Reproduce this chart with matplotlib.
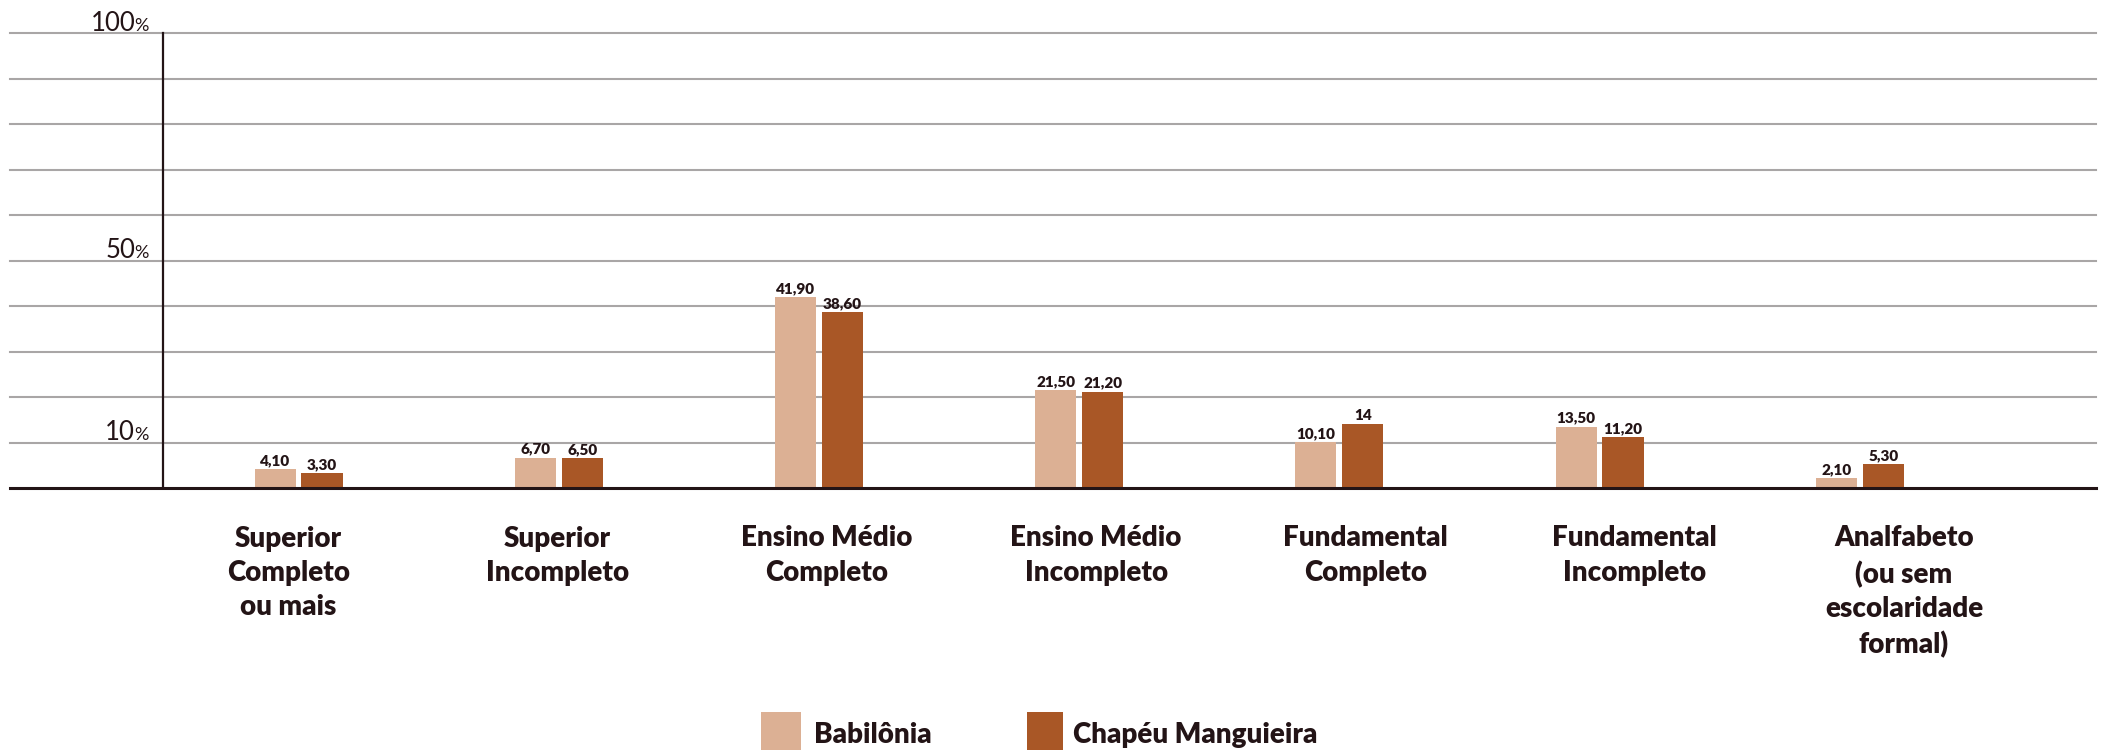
import numpy as np
import matplotlib
matplotlib.use("Agg")
import matplotlib.pyplot as plt
from matplotlib.patches import Rectangle

plt.rcParams["font.family"] = ["Lato", "DejaVu Sans"]

categories = [
    "Superior\nCompleto\nou mais",
    "Superior\nIncompleto",
    "Ensino Médio\nCompleto",
    "Ensino Médio\nIncompleto",
    "Fundamental\nCompleto",
    "Fundamental\nIncompleto",
    "Analfabeto\n(ou sem\nescolaridade\nformal)",
]
babilonia = [4.10, 6.70, 41.90, 21.50, 10.10, 13.50, 2.10]
chapeu = [3.30, 6.50, 38.60, 21.20, 14, 11.20, 5.30]
babilonia_labels = ["4,10", "6,70", "41,90", "21,50", "10,10", "13,50", "2,10"]
chapeu_labels = ["3,30", "6,50", "38,60", "21,20", "14", "11,20", "5,30"]
series_names = ["Babilônia", "Chapéu Manguieira"]
ytick_values = [100, 50, 10]

C_LIGHT = "#dcb094"
C_DARK = "#a95726"
C_TEXT = "#231416"
C_GRID = "#a9a6a6"

W, H = 2108, 750
fig = plt.figure(figsize=(W / 100, H / 100), dpi=100)
ax = fig.add_axes([10 / W, (H - 488) / H, 2086 / W, 455 / H])

x = np.arange(len(categories))
bw = 0.158
off = 0.09

ax.set_xlim(-1.109, 6.908)
ax.set_ylim(0, 100)
for s in ax.spines.values():
    s.set_visible(False)
ax.tick_params(length=0)
ax.set_yticks([])

# gridlines every 10%
for g in range(10, 101, 10):
    ax.axhline(g, color=C_GRID, lw=1.5, zorder=0, clip_on=False)
ax.axhline(0, color=C_TEXT, lw=2.2, zorder=3, clip_on=False)

yaxis_x = -0.521
ax.plot([yaxis_x, yaxis_x], [0, 100], color=C_TEXT, lw=1.6, zorder=3, clip_on=False)

b1 = ax.bar(x - off, babilonia, bw, color=C_LIGHT, zorder=2)
b2 = ax.bar(x + off, chapeu, bw, color=C_DARK, zorder=2)

for bars, labs in ((b1, babilonia_labels), (b2, chapeu_labels)):
    for rect, lab in zip(bars, labs):
        ax.annotate(lab, (rect.get_x() + rect.get_width() / 2, rect.get_height()),
                    xytext=(0, 1.5), textcoords="offset points",
                    ha="center", va="bottom", fontsize=11, fontweight="heavy",
                    color=C_TEXT, zorder=4)

# category labels, slightly wider spacing than the bar groups
label_pos = -0.04 + 1.035 * x
ax.set_xticks(label_pos)
ax.set_xticklabels(categories, fontsize=20, fontweight="heavy", color=C_TEXT,
                   linespacing=1.4, ha="center", va="top")
ax.tick_params(axis="x", pad=27)

# y labels with small percent sign
for v in ytick_values:
    ax.annotate(str(v), (yaxis_x, v), xytext=(-20, 1.5), textcoords="offset points",
                ha="right", va="baseline", fontsize=18.5, color=C_TEXT,
                annotation_clip=False)
    ax.annotate("%", (yaxis_x, v), xytext=(-20.5, 1.5), textcoords="offset points",
                ha="left", va="baseline", fontsize=13, color=C_TEXT,
                annotation_clip=False)

# legend
for (sx, sw, tx), name, col in zip([(761, 40, 814), (1027, 36, 1073)],
                                   series_names, [C_LIGHT, C_DARK]):
    fig.add_artist(Rectangle((sx / W, 0), sw / W, 38 / H, transform=fig.transFigure,
                             color=col, lw=0))
    fig.text(tx / W, 1 - 743 / H, name, fontsize=20, fontweight="heavy",
             color=C_TEXT, ha="left", va="baseline")

fig.savefig("out.png", dpi=100)
